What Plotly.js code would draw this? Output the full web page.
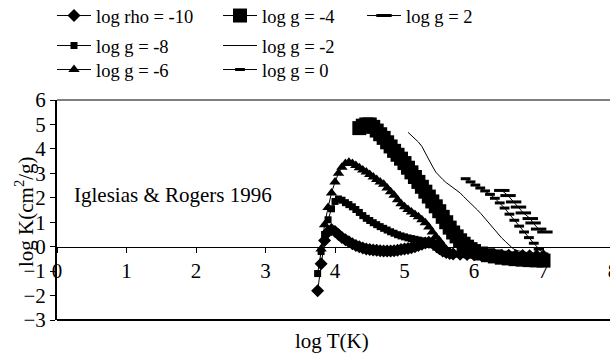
<!DOCTYPE html>
<html>
<head>
<meta charset="utf-8">
<script src="https://cdn.plot.ly/plotly-3.0.1.min.js"></script>
<style>
html,body{margin:0;padding:0;overflow:hidden;background:#fff;}
#chart{width:640px;height:353px;}
</style>
</head>
<body>
<div id="chart"></div>
<script>
// ---- data (log T, log K) ----
const seriesNames = ["log rho = -10", "log g = -8", "log g = -6", "log g = -4", "log g = -2", "log g = 0", "log g = 2"];

const logT_rho10 = [3.75,3.80,3.85,3.90,3.95,4.00,4.05,4.10,4.15,4.20,4.25,4.30,4.35,4.40,4.45,4.50,4.55,4.60,4.65,4.70,4.75,4.80,4.85,4.90,4.95,5.00,5.05,5.10,5.15,5.20,5.25,5.30,5.35,5.40,5.45,5.50,5.55,5.60,5.65,5.70,5.80,5.90,6.00,6.10,6.20,6.30,6.40,6.50,6.60,6.70,6.80,6.90,7.00];
const logK_rho10 = [-1.80,-0.70,0.25,0.60,0.70,0.62,0.50,0.38,0.28,0.20,0.12,0.05,0.00,-0.05,-0.10,-0.12,-0.14,-0.15,-0.17,-0.18,-0.18,-0.18,-0.17,-0.15,-0.12,-0.10,-0.07,-0.04,0.00,0.05,0.10,0.15,0.18,0.15,0.05,-0.08,-0.18,-0.24,-0.28,-0.30,-0.31,-0.32,-0.33,-0.33,-0.34,-0.34,-0.35,-0.35,-0.36,-0.36,-0.37,-0.37,-0.38];

const logT_gm8 = [3.75,3.80,3.85,3.90,3.95,4.00,4.05,4.10,4.15,4.20,4.25,4.30,4.35,4.40,4.45,4.50,4.55,4.60,4.65,4.70,4.75,4.80,4.85,4.90,4.95,5.00,5.05,5.10,5.15,5.20,5.25,5.30,5.35,5.40,5.45,5.50,5.55,5.60,5.65,5.70,5.80,5.90,6.00,6.10,6.20,6.30,6.40,6.50,6.60,6.70,6.80,6.90,7.00];
const logK_gm8 = [-1.10,-0.20,0.50,1.10,1.55,1.85,1.95,1.90,1.80,1.72,1.63,1.52,1.40,1.27,1.16,1.07,0.98,0.90,0.82,0.75,0.68,0.61,0.55,0.49,0.44,0.40,0.36,0.33,0.30,0.27,0.24,0.20,0.15,0.08,-0.02,-0.12,-0.20,-0.25,-0.28,-0.30,-0.32,-0.34,-0.35,-0.37,-0.38,-0.40,-0.41,-0.42,-0.43,-0.44,-0.45,-0.45,-0.46];

const logT_gm6 = [3.80,3.85,3.90,3.95,4.00,4.05,4.10,4.15,4.20,4.25,4.30,4.35,4.40,4.45,4.50,4.55,4.60,4.65,4.70,4.75,4.80,4.85,4.90,4.95,5.00,5.05,5.10,5.15,5.20,5.25,5.30,5.35,5.40,5.45,5.50,5.55,5.60,5.65,5.70,5.80,5.90,6.00,6.10,6.20,6.30,6.40,6.50,6.60,6.70,6.80,6.90,7.00];
const logK_gm6 = [-0.10,0.90,1.60,2.20,2.65,3.00,3.25,3.40,3.45,3.40,3.32,3.23,3.14,3.05,2.95,2.85,2.75,2.65,2.55,2.40,2.25,2.10,1.92,1.76,1.63,1.52,1.42,1.32,1.22,1.10,0.98,0.80,0.60,0.42,0.25,0.06,-0.12,-0.22,-0.28,-0.32,-0.35,-0.37,-0.39,-0.41,-0.42,-0.44,-0.45,-0.46,-0.47,-0.48,-0.48,-0.49];

const logT_gm4 = [4.35,4.40,4.45,4.50,4.55,4.60,4.65,4.70,4.75,4.80,4.85,4.90,4.95,5.00,5.05,5.10,5.15,5.20,5.25,5.30,5.35,5.40,5.45,5.50,5.55,5.60,5.65,5.70,5.75,5.80,5.85,5.90,5.95,6.00,6.10,6.20,6.30,6.40,6.50,6.60,6.70,6.80,6.90,7.00];
const logK_gm4 = [4.85,4.95,5.00,5.00,4.90,4.75,4.60,4.45,4.27,4.10,3.92,3.76,3.60,3.42,3.23,3.04,2.85,2.65,2.45,2.25,2.05,1.85,1.65,1.45,1.22,1.00,0.78,0.58,0.42,0.26,0.12,0.00,-0.10,-0.18,-0.28,-0.35,-0.40,-0.45,-0.48,-0.51,-0.53,-0.55,-0.56,-0.57];

const logT_gm2 = [5.05,5.10,5.15,5.20,5.25,5.30,5.35,5.40,5.45,5.50,5.55,5.60,5.65,5.70,5.75,5.80,5.85,5.90,5.95,6.00,6.05,6.10,6.15,6.20,6.25,6.30,6.35,6.40,6.45,6.50,6.55,6.60,6.70,6.80,6.90,7.00];
const logK_gm2 = [4.68,4.55,4.42,4.28,4.10,3.82,3.55,3.30,3.05,2.88,2.75,2.62,2.52,2.42,2.32,2.20,2.05,1.92,1.78,1.64,1.50,1.35,1.18,1.02,0.85,0.68,0.50,0.35,0.22,0.08,-0.05,-0.15,-0.22,-0.26,-0.28,-0.30];

const logT_g0 = [5.88,5.95,6.02,6.09,6.16,6.23,6.30,6.37,6.44,6.51,6.58,6.65,6.72,6.79,6.86,6.93,7.00];
const logK_g0 = [2.78,2.65,2.52,2.40,2.28,2.14,1.98,1.79,1.58,1.33,1.08,0.84,0.60,0.37,0.14,-0.10,-0.30];

const logT_g2 = [6.40,6.49,6.57,6.64,6.71,6.81,6.85,6.93,7.02];
const logK_g2 = [2.30,2.09,1.83,1.62,1.38,1.15,0.97,0.72,0.60];

const xTickVals = [0,1,2,3,4,5,6,7,8];
const yTickVals = [-3,-2,-1,0,1,2,3,4,5,6];

const FONT = "Liberation Serif, Times New Roman, serif";
const black = "#000";

const traces = [
  {x: logT_rho10, y: logK_rho10, name: seriesNames[0], legend: "legend",
   mode: "lines+markers", line: {color: black, width: 1},
   marker: {symbol: "diamond", size: 10, color: black}},
  {x: logT_gm8, y: logK_gm8, name: seriesNames[1], legend: "legend2",
   mode: "lines+markers", line: {color: black, width: 1},
   marker: {symbol: "square", size: 7, color: black}},
  {x: logT_gm6, y: logK_gm6, name: seriesNames[2], legend: "legend3",
   mode: "lines+markers", line: {color: black, width: 1},
   marker: {symbol: "triangle-up", size: 10, color: black}},
  {x: logT_gm4, y: logK_gm4, name: seriesNames[3], legend: "legend4",
   mode: "lines+markers", line: {color: black, width: 1},
   marker: {symbol: "square", size: 14, color: black}},
  {x: logT_gm2, y: logK_gm2, name: seriesNames[4], legend: "legend5",
   mode: "lines", line: {color: black, width: 1}},
  {x: logT_g0, y: logK_g0, name: seriesNames[5], legend: "legend6",
   mode: "lines+markers", line: {color: black, width: 1},
   marker: {symbol: "line-ew", size: 7, color: black, line: {color: black, width: 3}}},
  {x: logT_g2, y: logK_g2, name: seriesNames[6], legend: "legend7",
   mode: "lines+markers", line: {color: black, width: 1},
   marker: {symbol: "line-ew", size: 11, color: black, line: {color: black, width: 3}}}
];

// plot area in px: x 57..613, y 100..320
const PL = 57, PR = 613, PT = 100, PB = 320;
function px2paperX(px){ return (px - PL) / (PR - PL); }
function px2paperY(py){ return (PB - py) / (PB - PT); }

function leg(xpx, ypx){
  return {x: px2paperX(xpx), y: px2paperY(ypx), xanchor: "left", yanchor: "middle",
          bgcolor: "rgba(0,0,0,0)", borderwidth: 0, itemwidth: 34,
          font: {family: FONT, size: 18.5, color: black}};
}

const layout = {
  width: 640, height: 353,
  margin: {l: PL, r: 640 - PR, t: PT, b: 353 - PB, pad: 0, autoexpand: false},
  paper_bgcolor: "#fff", plot_bgcolor: "#fff",
  font: {family: FONT, size: 20, color: black},
  showlegend: true,
  legend:  leg(52, 16),
  legend2: leg(52, 46),
  legend3: leg(52, 70),
  legend4: leg(218, 16),
  legend5: leg(218, 46),
  legend6: leg(218, 70),
  legend7: leg(362, 16),
  xaxis: {
    range: [0, 8], tickvals: xTickVals, ticks: "outside", ticklen: 5, tickcolor: black,
    showgrid: false, zeroline: false, showline: true, linecolor: black, linewidth: 1,
    anchor: "free", position: 1/3,
    tickfont: {family: FONT, size: 21, color: black}
  },
  yaxis: {
    range: [-3, 6], tickvals: yTickVals, ticks: "outside", ticklen: 5, tickcolor: black,
    showgrid: false, zeroline: false, showline: true, linecolor: black, linewidth: 2,
    tickfont: {family: FONT, size: 21, color: black}
  },
  shapes: [
    {type: "line", xref: "paper", yref: "paper", x0: 0, x1: 1, y0: 1, y1: 1, line: {color: black, width: 1}},
    {type: "line", xref: "paper", yref: "paper", x0: 0, x1: 1, y0: 0, y1: 0, line: {color: black, width: 2}}
  ],
  annotations: [
    {text: "Iglesias & Rogers 1996", xref: "x", yref: "y", x: 0.22, y: 2.13,
     xanchor: "left", yanchor: "middle", showarrow: false,
     font: {family: FONT, size: 21, color: black}},
    {text: "log K(cm<sup>2</sup>/g)", xref: "paper", yref: "paper",
     x: px2paperX(24), y: px2paperY(212), textangle: -90,
     xanchor: "center", yanchor: "middle", showarrow: false,
     font: {family: FONT, size: 21, color: black}},
    {text: "log T(K)", xref: "paper", yref: "paper",
     x: px2paperX(332), y: px2paperY(341),
     xanchor: "center", yanchor: "middle", showarrow: false,
     font: {family: FONT, size: 21, color: black}}
  ]
};

Plotly.newPlot("chart", traces, layout, {displayModeBar: false, staticPlot: true});
</script>
</body>
</html>
